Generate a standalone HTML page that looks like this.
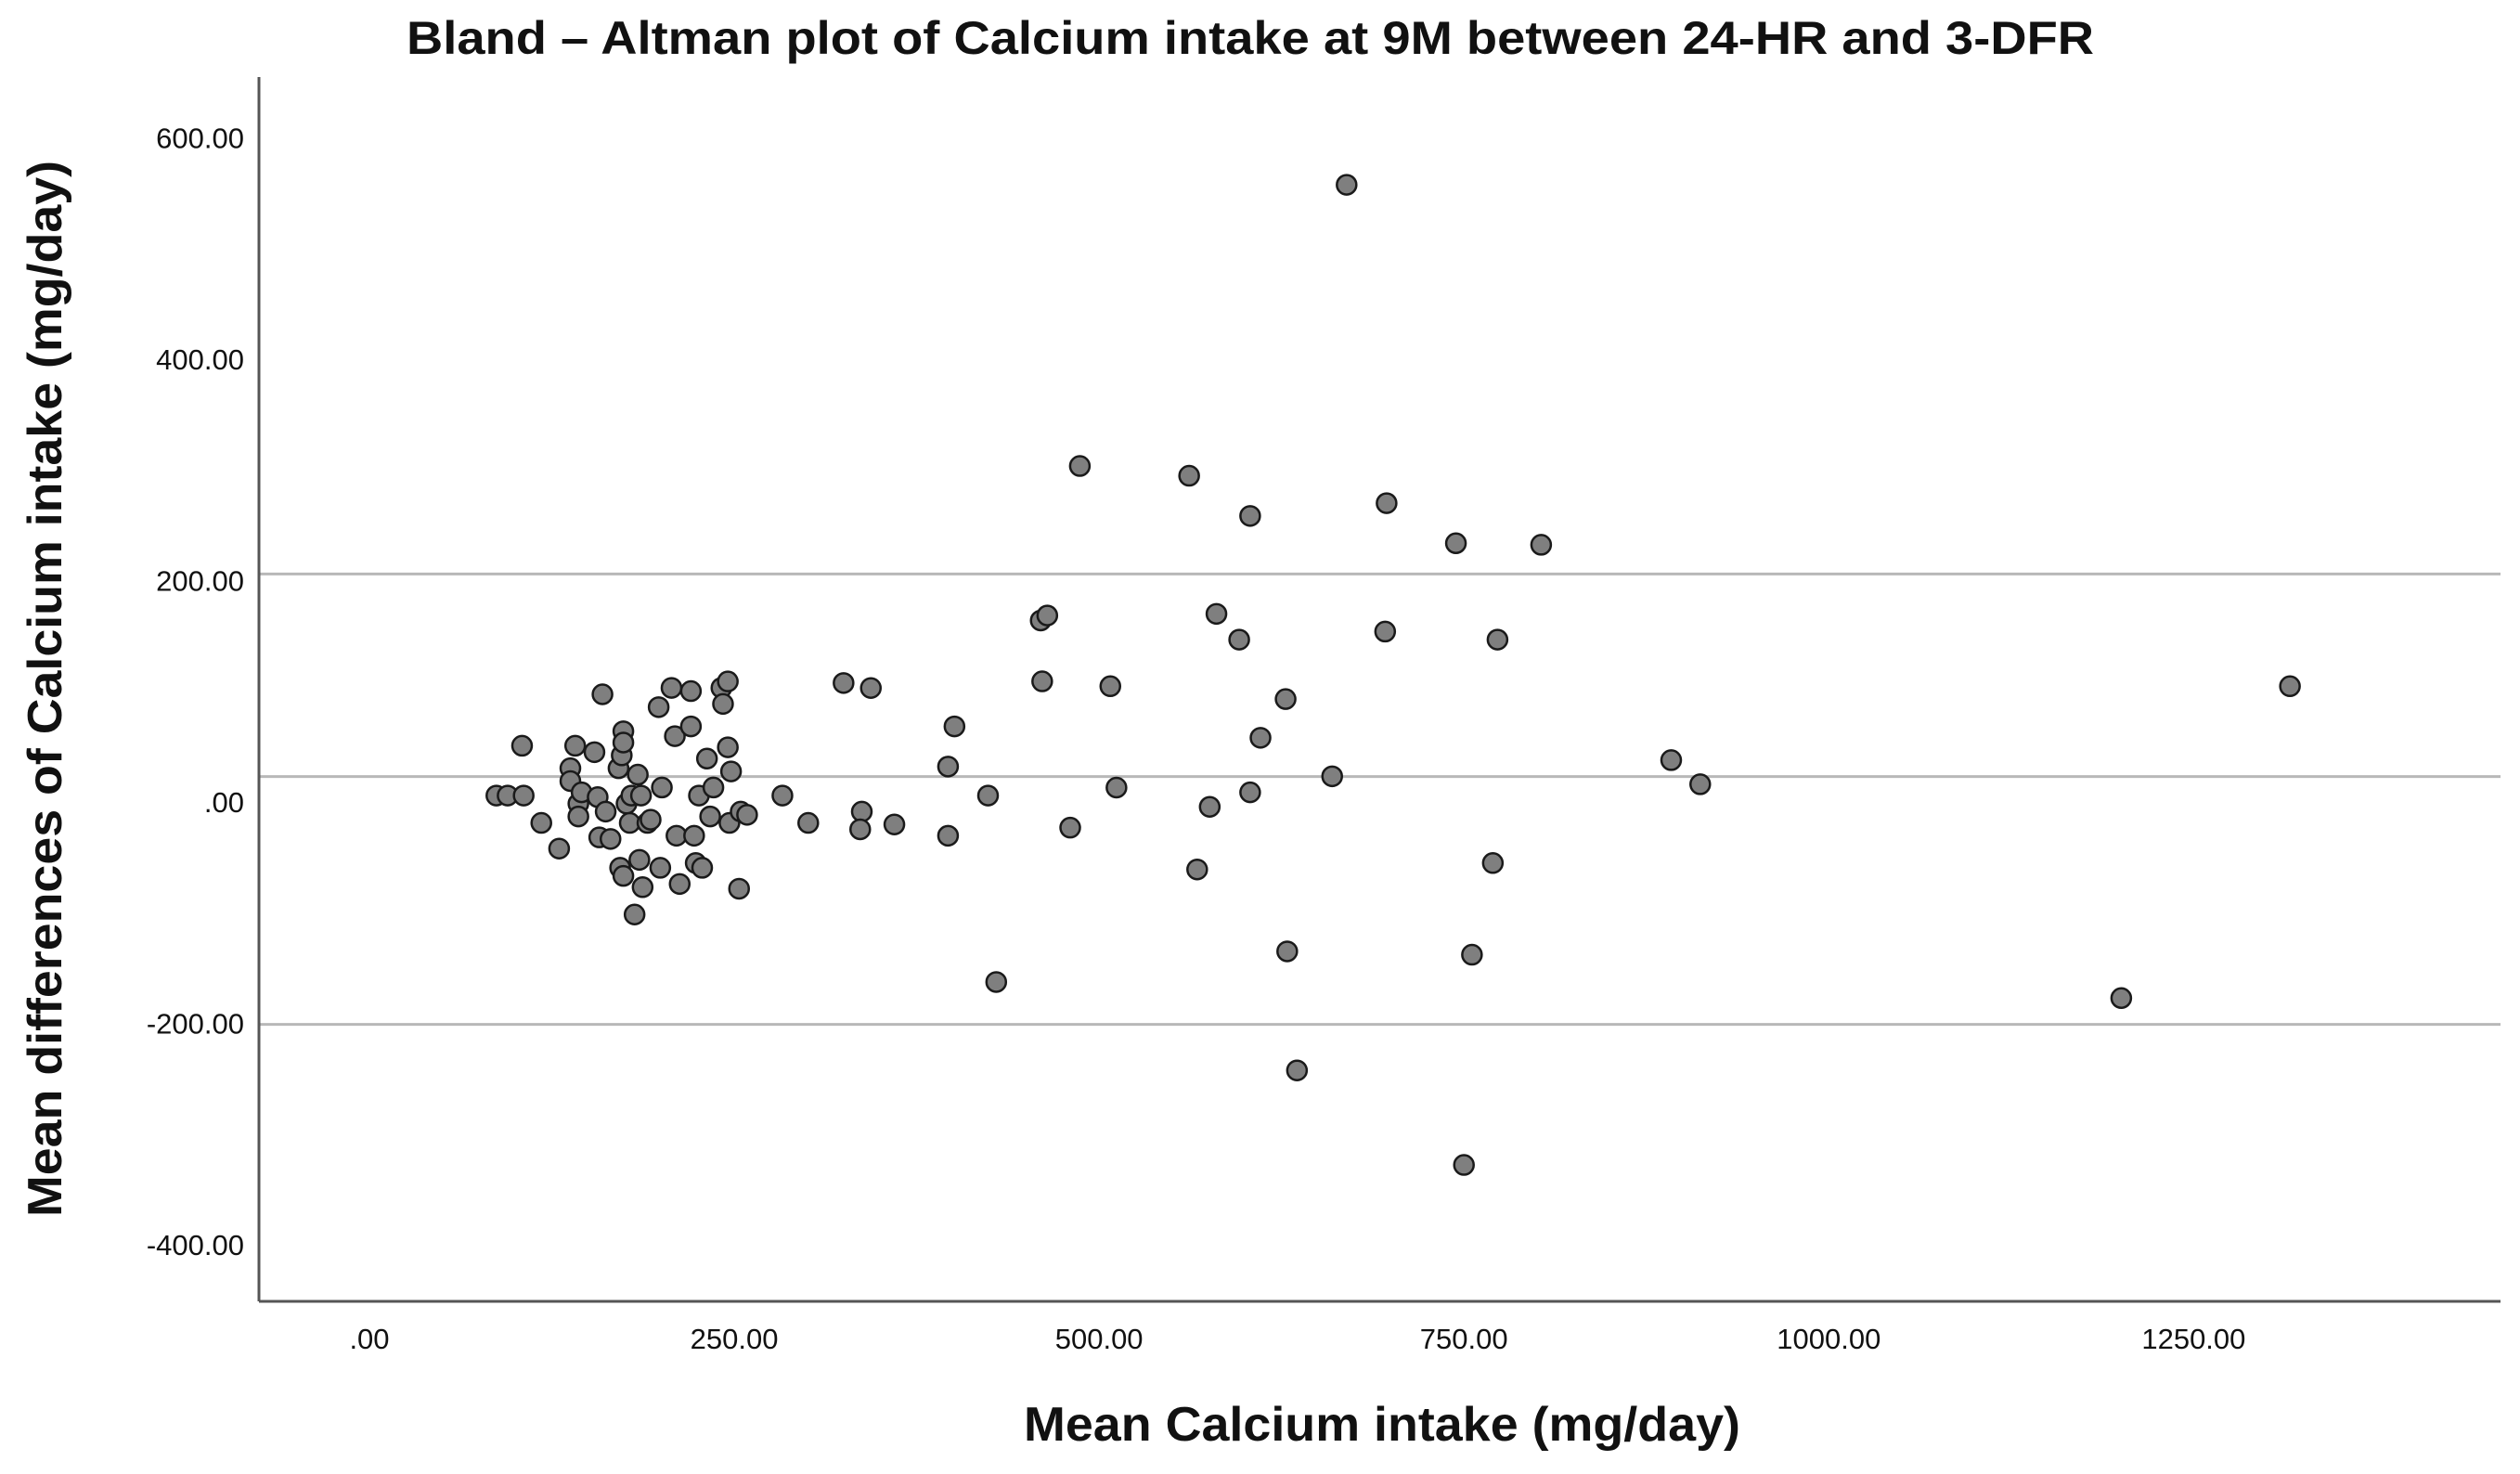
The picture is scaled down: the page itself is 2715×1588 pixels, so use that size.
<!DOCTYPE html>
<html><head><meta charset="utf-8"><style>
html,body{margin:0;padding:0;background:#fff}
svg{display:block}
text{font-family:"Liberation Sans",sans-serif;fill:#111}
</style></head><body>
<svg id="chart" width="2715" height="1588" viewBox="0 0 2715 1588" xmlns="http://www.w3.org/2000/svg">
<rect width="2715" height="1588" fill="#fff"/>
<text x="1347" y="58" text-anchor="middle" font-size="50" font-weight="bold" textLength="1818" lengthAdjust="spacingAndGlyphs">Bland – Altman plot of Calcium intake at 9M between 24-HR and 3-DFR</text>
<text x="1489" y="1552" text-anchor="middle" font-size="52" font-weight="bold" textLength="772" lengthAdjust="spacingAndGlyphs">Mean Calcium intake (mg/day)</text>
<text transform="translate(66,742) rotate(-90)" text-anchor="middle" font-size="52" font-weight="bold" textLength="1138" lengthAdjust="spacingAndGlyphs">Mean differences of Calcium intake (mg/day)</text>
<g id="grid"></g>
<g id="axes"></g>
<g id="points"></g>
</svg>
<script>
const xTicks = [0, 250, 500, 750, 1000, 1250];
const xTickLabels = [".00", "250.00", "500.00", "750.00", "1000.00", "1250.00"];
const yTicks = [600, 400, 200, 0, -200, -400];
const yTickLabels = ["600.00", "400.00", "200.00", ".00", "-200.00", "-400.00"];
const refLineValues = [206, 23, -201];
const meanValues = [669.6,486.8,561.7,603.5,697,744.5,802.9,460,464.5,580.4,596,696,773,1316,461,507.7,324.9,343.6,400.9,627.8,610.6,892,911.9,659.7,396.5,511.9,603.5,423.9,575.8,283,300.7,337.4,336.3,359.7,396.5,480.2,567.2,769.8,429.5,628.9,755.5,635.6,750,1200.4,
87,94.7,105.7,104.6,117.8,130,137.7,137.7,141,143.2,143.2,145.4,154.2,156.4,157.5,159.7,161.9,165.2,170.7,172.9,174,174,171.8,174,176.2,178.4,179.5,181.7,183.9,185,186.1,187.2,190.5,192.7,198.2,200.4,199.3,207,209.3,210.4,212.6,220.3,220.3,222.5,223.6,225.8,228,231.3,233.5,235.7,241.2,242.3,245.6,245.6,246.7,247.8,253.3,254.4,258.8];
const diffValues = [557.7,303.6,294.8,258.5,270,233.8,232.4,164,168.5,170,146.7,154,146.7,104.6,109,104.6,107.5,103,68.3,93,58,37.8,16,23.2,32,13,8.7,5.8,-4.4,5.8,-18.9,-8.7,-24.7,-20.3,-30.5,-23.2,-61,-55.2,-162.7,-135,-138,-242.6,-328,-177.2,
5.8,5.8,5.8,50.8,-18.9,-42.1,30.5,18.9,50.8,-1.5,-13.1,8.7,45,4.4,-32,97.3,-8.7,-33.4,30.5,42.1,63.9,53.7,-59.5,-66.8,-1.5,-18.9,5.8,-101.7,24.7,-52.3,5.8,-77,-18.9,-16,85.7,13.1,-59.5,103.1,59.5,-30.5,-74.1,100.2,68.3,-30.5,-55.2,5.8,-59.5,39.2,-13.1,13.1,103.1,88.6,108.9,49.4,-18.9,27.6,-78.4,-8.7,-11.6];

const NS = "http://www.w3.org/2000/svg";
const plotL = 279, plotR = 2694, plotT = 83, plotB = 1402;
function xs(v){ return 398 + v * 1.5723; }
function ys(v){ return 864 - v * 1.1922; }
function mk(tag, attrs, parent){ const e = document.createElementNS(NS, tag); for (const k in attrs) e.setAttribute(k, attrs[k]); parent.appendChild(e); return e; }

const grid = document.getElementById('grid');
refLineValues.forEach((v, i) => {
  const l = mk('line', {x1: plotL, x2: plotR, y1: ys(v), y2: ys(v), stroke: '#b8b8b8', 'stroke-width': 3}, grid);
  
  
});

const axes = document.getElementById('axes');
const ya = mk('line', {x1: plotL, x2: plotL, y1: plotT, y2: plotB, stroke: '#555', 'stroke-width': 3}, axes);


const xa = mk('line', {x1: plotL, x2: plotR, y1: plotB, y2: plotB, stroke: '#555', 'stroke-width': 3}, axes);



yTicks.forEach((v, i) => {
  const t = mk('text', {x: 263, y: ys(v) + 11, 'text-anchor': 'end', 'font-size': 31}, axes);
  t.textContent = yTickLabels[i];
  
  
});
xTicks.forEach((v, i) => {
  const t = mk('text', {x: xs(v), y: 1453, 'text-anchor': 'middle', 'font-size': 31}, axes);
  t.textContent = xTickLabels[i];
  
  
});

const pts = document.getElementById('points');
meanValues.forEach((m, i) => {
  const c = mk('circle', {cx: xs(m), cy: ys(diffValues[i]), r: 10.5, fill: '#7f7f7f', stroke: '#1a1a1a', 'stroke-width': 2.5}, pts);
  
  
});
</script>
</body></html>
